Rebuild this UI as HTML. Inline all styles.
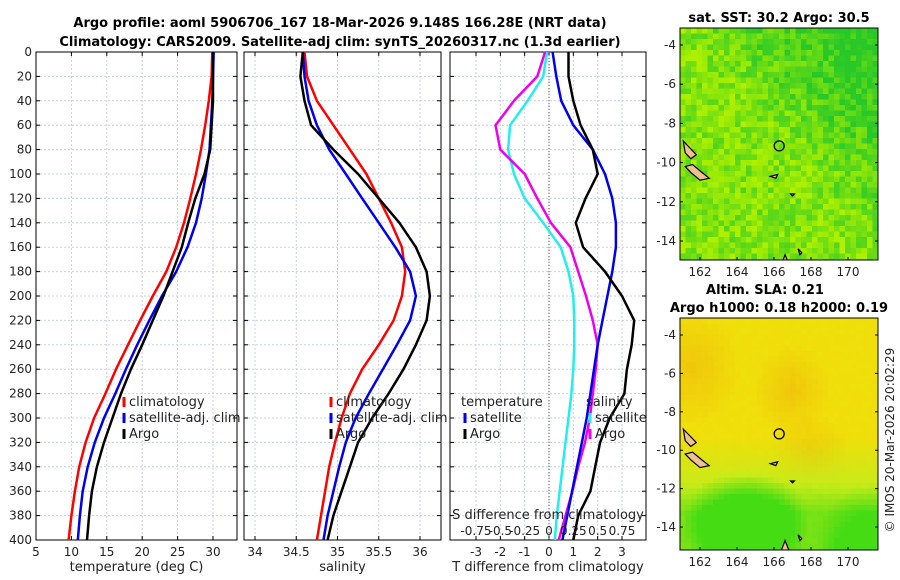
<!DOCTYPE html>
<html><head><meta charset="utf-8">
<style>
body{margin:0;background:#fff;}
svg{display:block;font-family:"DejaVu Sans","Liberation Sans",sans-serif;}
</style></head>
<body>
<svg id="c" width="900" height="580" viewBox="0 0 900 580" xmlns="http://www.w3.org/2000/svg">
<defs>
<clipPath id="clip1"><rect x="680" y="28" width="198" height="232"/></clipPath>
<clipPath id="clip2"><rect x="680" y="318" width="198" height="232"/></clipPath>
</defs>
<text x="340" y="27" text-anchor="middle" font-size="13" font-weight="bold">Argo profile: aoml 5906706_167 18-Mar-2026 9.148S 166.28E (NRT data)</text>
<text x="340" y="46" text-anchor="middle" font-size="13" font-weight="bold">Climatology: CARS2009. Satellite-adj clim: synTS_20260317.nc (1.3d earlier)</text>
<text x="779" y="22" text-anchor="middle" font-size="13" font-weight="bold">sat. SST: 30.2 Argo: 30.5</text>
<text x="765" y="294" text-anchor="middle" font-size="13" font-weight="bold">Altim. SLA: 0.21</text>
<text x="779" y="312" text-anchor="middle" font-size="13" font-weight="bold">Argo h1000: 0.18 h2000: 0.19</text>
<text transform="translate(894,440) rotate(-90)" text-anchor="middle" font-size="12" fill="#222">© IMOS 20-Mar-2026 20:02:29</text>
<g id="plots"></g>
</svg>
<script>
const depths=[0,20,40,60,80,100,120,140,160,180,200,220,240,260,280,300,320,340,360,380,400];
const tempClim=[29.9,29.8,29.4,28.9,28.3,27.6,26.8,25.9,24.8,23.4,21.5,19.7,18.0,16.3,14.8,13.2,12.0,11.1,10.5,10.0,9.6];
const tempSat=[30.1,30.0,29.9,29.7,29.5,29.0,28.4,27.6,26.4,24.8,22.8,21.0,19.3,17.7,16.2,14.6,13.3,12.3,11.6,11.2,10.9];
const tempArgo=[30.0,30.0,30.0,29.8,29.6,28.8,27.5,26.5,25.6,24.3,23.0,21.5,20.0,18.4,17.0,15.8,14.6,13.6,12.9,12.5,12.2];
const salClim=[34.6,34.63,34.75,34.95,35.15,35.35,35.5,35.65,35.78,35.82,35.78,35.68,35.5,35.3,35.15,35.05,34.97,34.9,34.85,34.8,34.75];
const salSat=[34.58,34.6,34.65,34.75,34.9,35.1,35.3,35.5,35.7,35.88,35.95,35.88,35.72,35.55,35.38,35.22,35.1,35.02,34.95,34.88,34.83];
const salArgo=[34.58,34.55,34.6,34.68,34.95,35.25,35.5,35.75,35.95,36.08,36.12,36.08,35.95,35.8,35.62,35.42,35.25,35.15,35.05,34.95,34.88];
const tDiffSat=[0.15,0.3,0.5,1.0,1.8,2.3,2.6,2.75,2.75,2.6,2.4,2.2,2.0,1.85,1.7,1.55,1.35,1.15,0.95,0.75,0.55];
const tDiffArgo=[0.8,0.8,1.0,1.3,1.8,2.0,1.5,1.1,1.4,2.3,3.0,3.5,3.4,3.2,3.1,2.5,2.1,1.9,1.7,1.2,1.0];
const sDiffSat=[-0.02,-0.06,-0.22,-0.4,-0.42,-0.36,-0.25,-0.06,0.12,0.2,0.25,0.26,0.26,0.25,0.23,0.2,0.17,0.14,0.11,0.08,0.06];
const sDiffArgo=[-0.04,-0.12,-0.36,-0.55,-0.5,-0.25,-0.12,0.02,0.22,0.3,0.38,0.45,0.5,0.48,0.45,0.42,0.37,0.3,0.24,0.17,0.1];
const depthTicks=[0,20,40,60,80,100,120,140,160,180,200,220,240,260,280,300,320,340,360,380,400];
const tempTicks=[5,10,15,20,25,30];
const salTicks=[34,34.5,35,35.5,36];
const tdTicks=[-3,-2,-1,0,1,2,3];
const sdTicks=[-0.75,-0.5,-0.25,0,0.25,0.5,0.75];
const mapLatTicks=[-4,-6,-8,-10,-12,-14];
const mapLonTicks=[162,164,166,168,170];

const NS='http://www.w3.org/2000/svg';
const root=document.getElementById('plots');
function mk(tag,attrs,parent){const e=document.createElementNS(NS,tag);for(const k in attrs)e.setAttribute(k,attrs[k]);(parent||root).appendChild(e);return e;}
const Y0=52,Y1=540;
const yD=d=>Y0+(d/400)*(Y1-Y0);
function lin(d0,d1,r0,r1){return v=>r0+(v-d0)/(d1-d0)*(r1-r0);}

function panel(name,x0,x1,xs,ticks,tickFmt,xlabel,showY){
  const g=mk('g',{});
  
  
  mk('rect',{x:x0,y:Y0,width:x1-x0,height:Y1-Y0,fill:'#fff'},g);
  depthTicks.forEach(d=>{const l=mk('line',{x1:x0,x2:x1,y1:yD(d),y2:yD(d),stroke:'#c8d0e8','stroke-dasharray':'2,2','stroke-width':1},g);
    
    mk('line',{x1:x0,x2:x0+4,y1:yD(d),y2:yD(d),stroke:'#000'},g);mk('line',{x1:x1,x2:x1-4,y1:yD(d),y2:yD(d),stroke:'#000'},g);
    if(showY){const t=mk('text',{x:x0-4,y:yD(d)+4,'text-anchor':'end','font-size':12,fill:'#222'},g);t.textContent=d;
      }});
  ticks.forEach(v=>{const x=xs(v);const l=mk('line',{x1:x,x2:x,y1:Y0,y2:Y1,stroke:'#c8d0e8','stroke-dasharray':'2,2'},g);
    
    mk('line',{x1:x,x2:x,y1:Y1,y2:Y1-4,stroke:'#000'},g);mk('line',{x1:x,x2:x,y1:Y0,y2:Y0+4,stroke:'#000'},g);
    const t=mk('text',{x:x,y:Y1+16,'text-anchor':'middle','font-size':12,fill:'#222'},g);t.textContent=tickFmt(v);
    });
  mk('rect',{x:x0,y:Y0,width:x1-x0,height:Y1-Y0,fill:'none',stroke:'#000'},g);
  const xl=mk('text',{x:(x0+x1)/2,y:571,'text-anchor':'middle','font-size':13,fill:'#222'},g);xl.textContent=xlabel;
  
  return g;
}
function line(g,name,vals,xs,color){
  const p=vals.map((v,i)=>(i?'L':'M')+xs(v).toFixed(1)+','+yD(depths[i]).toFixed(1)).join('');
  const e=mk('path',{d:p,fill:'none',stroke:color,'stroke-width':2.5,'stroke-linejoin':'round'},g);
  
}
function legend(g,name,x,y,items){
  const lg=mk('g',{},g);
  items.forEach((it,i)=>{const yy=y+i*16;
    if(it[1])mk('line',{x1:x,x2:x,y1:yy-9,y2:yy+1,stroke:it[1],'stroke-width':3},lg);
    const t=mk('text',{x:x+(it[1]?5:-4),y:yy,'font-size':13,fill:'#222'},lg);t.textContent=it[0];
    });
}
const xT=lin(5,30,36,213);
const g1=panel('temperature-panel',36,237,xT,tempTicks,v=>v,'temperature (deg C)',true);
line(g1,'temp-climatology-line',tempClim,xT,'#f00');
line(g1,'temp-satellite-line',tempSat,xT,'#0000ee');
line(g1,'temp-argo-line',tempArgo,xT,'#000');
legend(g1,'temp-legend',124,406,[['climatology','#f00'],['satellite-adj. clim','#0000ee'],['Argo','#000']]);
const xS=lin(34,36,255,420);
const g2=panel('salinity-panel',244,441,xS,salTicks,v=>v,'salinity',false);
line(g2,'sal-climatology-line',salClim,xS,'#f00');
line(g2,'sal-satellite-line',salSat,xS,'#0000ee');
line(g2,'sal-argo-line',salArgo,xS,'#000');
legend(g2,'sal-legend',331,406,[['climatology','#f00'],['satellite-adj. clim','#0000ee'],['Argo','#000']]);
const xD=lin(0,3,549,622);
const xSD=v=>xD(v*4);
const g3=panel('difference-panel',450,646,xD,tdTicks,v=>v,'T difference from climatology',false);
mk('line',{x1:xD(0),x2:xD(0),y1:Y0,y2:Y1,stroke:'#555','stroke-dasharray':'1,2'},g3);
line(g3,'sdiff-satellite-line',sDiffSat,xSD,'#22eeee');
line(g3,'sdiff-argo-line',sDiffArgo,xSD,'#ee00ee');
line(g3,'tdiff-satellite-line',tDiffSat,xD,'#0000ee');
line(g3,'tdiff-argo-line',tDiffArgo,xD,'#000');
legend(g3,'tdiff-legend',465,406,[['temperature',null],['satellite','#0000ee'],['Argo','#000']]);
legend(g3,'sdiff-legend',590,406,[['salinity',null],['satellite','#22eeee'],['Argo','#ee00ee']]);
const st=mk('text',{x:548,y:519,'text-anchor':'middle','font-size':13,fill:'#222'},g3);st.textContent='S difference from climatology';

sdTicks.forEach(v=>{const t=mk('text',{x:xSD(v),y:535,'text-anchor':'middle','font-size':12,fill:'#222'},g3);t.textContent=String(v);
  });

function hash(i,j){let h=(i*374761393+j*668265263)|0;h=(h^(h>>>13))*1274126177|0;return ((h^(h>>>16))>>>0)/4294967295;}
function map(name,y0,clipId,colorFn){
  const x0=680,x1=878,y1=y0+232;
  const lon=lin(162,170,700,848);
  const lat=v=>y0+17+(-4-v)*19.6*(y0<100?1:0.98);
  const g=mk('g',{});
  const tg=mk('g',{'clip-path':'url(#'+clipId+')'},g);
  const cs=5.5;
  for(let j=0;j*cs<y1-y0;j++)for(let i=0;i*cs<x1-x0;i++){
    mk('rect',{x:x0+i*cs,y:y0+j*cs,width:cs+0.5,height:cs+0.5,fill:colorFn(i/36,j/42,hash(i,j+(y0>100?99:0)))},tg);}
  const isl=[[[161.1,-8.9],[161.4,-9.2],[161.8,-9.6],[161.5,-9.8],[161.2,-9.5]],[[161.2,-10.2],[161.6,-10.1],[162.1,-10.5],[162.5,-10.8],[162.0,-10.9],[161.5,-10.5]],[[165.8,-10.7],[166.2,-10.6],[166.1,-10.8]],[[166.9,-11.6],[167.1,-11.6],[167.0,-11.7]],[[167.3,-14.4],[167.5,-14.6],[167.4,-14.7]],[[166.4,-15.2],[166.6,-14.7],[166.8,-15.2]]];
  isl.forEach(pl=>{const e=mk('polygon',{points:pl.map(p=>lon(p[0])+','+lat(p[1])).join(' '),fill:'#f0c090',stroke:'#000','stroke-width':1.2},tg);
    });
  const c=mk('circle',{cx:lon(166.28),cy:lat(-9.148),r:5,fill:'none',stroke:'#000','stroke-width':1.3},g);
  
  mk('rect',{x:x0,y:y0,width:x1-x0,height:y1-y0,fill:'none',stroke:'#000'},g);
  mapLatTicks.forEach(v=>{const t=mk('text',{x:x0-4,y:lat(v)+4,'text-anchor':'end','font-size':12,fill:'#222'},g);t.textContent=v;
    
    mk('line',{x1:x0,x2:x0+3,y1:lat(v),y2:lat(v),stroke:'#000'},g);mk('line',{x1:x1,x2:x1-3,y1:lat(v),y2:lat(v),stroke:'#000'},g);});
  mapLonTicks.forEach(v=>{const t=mk('text',{x:lon(v),y:y1+16,'text-anchor':'middle','font-size':12,fill:'#222'},g);t.textContent=v;
    
    mk('line',{x1:lon(v),x2:lon(v),y1:y1,y2:y1-3,stroke:'#000'},g);});
}
function mixc(a,b,t){t=Math.max(0,Math.min(1,t));return a.map((v,k)=>Math.round(v+(b[k]-v)*t));}
function rgb(c){return 'rgb('+c.join(',')+')';}
map('sst-map',28,'clip1',(u,v,h)=>{const dark=Math.max(0,u*0.6+(1-v)*0.6-0.6);return rgb(mixc([175,240,0],[40,200,40],dark*1.4+h*0.75-0.05));});
map('sla-map',318,'clip2',(u,v,h)=>{
  const g1=Math.max(0,1-Math.hypot((u-0.32)*1.2,(v-0.88)*1.6)*2.6);
  const g2=Math.max(0,1-Math.hypot((u-0.95),(v-1.0))*3.5);
  const g=Math.max(g1,g2*0.6);
  const o=Math.max(0,1-Math.hypot(u-0.05,v-0.2)*4)+Math.max(0,1-Math.hypot(u-0.55,v-0.3)*5)+Math.max(0,1-Math.hypot(u-0.65,v-0.6)*5);
  const yel=mixc([240,224,10],[240,190,10],o*0.7+h*0.1);
  const lime=[200,235,25];
  const w=Math.max(0,Math.min(1,(v-0.5)*3))*0.8+g*0.8;
  if(w<0.5)return rgb(mixc(yel,lime,w*2));
  return rgb(mixc(lime,[70,220,20],(w-0.5)*2+h*0.05));});
</script>
</body></html>
